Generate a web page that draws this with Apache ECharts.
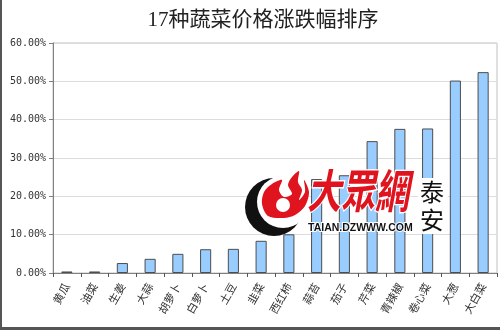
<!DOCTYPE html>
<html>
<head>
<meta charset="utf-8">
<script src="https://cdn.jsdelivr.net/npm/echarts@6/dist/echarts.min.js"></script>
<style>
  html, body { margin: 0; padding: 0; background: #fff; }
  #chart { width: 500px; height: 330px; }
</style>
</head>
<body>
<div id="chart"></div>
<script>
// Vegetable names, ordered by price change
const categories = ['黄瓜', '油菜', '生姜', '大蒜', '胡萝卜', '白萝卜', '土豆', '韭菜',
  '西红柿', '蒜苔', '茄子', '芹菜', '青辣椒', '卷心菜', '大葱', '大白菜'];
// Price change, percent
const changes = [0.4, 0.4, 2.6, 3.7, 5.0, 6.2, 6.3, 8.4,
  10.1, 24.5, 25.5, 34.4, 37.6, 37.7, 50.2, 52.4];
// Value axis range, percent
const yMin = 0;
const yMax = 60;
const yStep = 10;

const chart = echarts.init(document.getElementById('chart'), null, { renderer: 'canvas' });

chart.setOption({
  animation: false,
  backgroundColor: '#fff',
  title: {
    text: '17种蔬菜价格涨跌幅排序',
    left: 258,
    textAlign: 'center',
    top: 5,
    textStyle: {
      fontFamily: '"Liberation Serif", "Noto Sans CJK SC", serif',
      fontSize: 21,
      fontWeight: 'normal',
      color: '#222'
    }
  },
  grid: {
    left: 53, right: 3, top: 43, bottom: 57,
    show: true,
    borderColor: '#c0c0c0',
    borderWidth: 1
  },
  xAxis: {
    type: 'category',
    data: categories,
    axisLine: { lineStyle: { color: '#808080', width: 1 } },
    axisTick: { show: true, alignWithLabel: false, length: 4, lineStyle: { color: '#555' } },
    axisLabel: {
      rotate: 60,
      interval: 0,
      margin: 11,
      fontFamily: '"Noto Sans CJK SC", sans-serif',
      fontSize: 11,
      color: '#333'
    }
  },
  yAxis: {
    type: 'value',
    min: yMin,
    max: yMax,
    interval: yStep,
    axisLine: { show: true, lineStyle: { color: '#808080', width: 1 } },
    axisTick: { show: true, length: 4, lineStyle: { color: '#808080' } },
    splitLine: { lineStyle: { color: '#dcdcdc', width: 1 } },
    axisLabel: {
      margin: 7,
      fontFamily: '"DejaVu Sans Mono", monospace',
      fontSize: 10,
      color: '#333',
      formatter: v => v.toFixed(2) + '%'
    }
  },
  series: [{
    type: 'bar',
    data: changes,
    barWidth: '40%',
    itemStyle: { color: '#99ccff', borderColor: '#4d4d4d', borderWidth: 1 }
  }],
  graphic: [
    // outer frame
    { type: 'rect', shape: { x: 0, y: 0, width: 2, height: 330 }, style: { fill: '#555' }, silent: true },
    { type: 'rect', shape: { x: 0, y: 327, width: 500, height: 3 }, style: { fill: '#555' }, silent: true },
    // site logo: crescent
    { type: 'circle', shape: { cx: 274, cy: 207, r: 29 }, style: { fill: '#111' }, z: 100 },
    { type: 'circle', shape: { cx: 283, cy: 202, r: 26 }, style: { fill: '#fff' }, z: 101 },
    // site logo: flame tongues
    {
      type: 'polygon', z: 102,
      shape: {
        points: [[268, 216], [262, 204], [264, 192], [272, 184], [282, 180], [279, 190], [284, 197],
          [292, 194], [288, 185], [292, 177], [299, 171], [298, 182], [302, 190], [299, 200],
          [305, 192], [304, 180], [309, 192], [305, 206], [295, 215], [284, 218]],
        smooth: 0.3
      },
      style: { fill: '#e0141e' }
    },
    { type: 'circle', shape: { cx: 283, cy: 205, r: 7 }, style: { fill: '#fff' }, z: 103 },
    {
      type: 'text', z: 102, x: 307, y: 168, scaleY: 1.35,
      style: {
        text: '大眾網',
        font: 'italic bold 34px "Noto Sans CJK SC"',
        fill: '#e0141e',
        stroke: '#fff', lineWidth: 2
      }
    },
    {
      type: 'text', z: 102, left: 307, top: 222,
      style: {
        text: 'TAIAN.DZWWW.COM',
        font: 'bold 10.5px "Liberation Sans", Arial',
        fill: '#111',
        stroke: '#fff', lineWidth: 2
      }
    },
    { type: 'rect', shape: { x: 418, y: 178, width: 30, height: 56 }, style: { fill: '#fff' }, z: 101 },
    {
      type: 'text', z: 102, left: 420, top: 178,
      style: {
        text: '泰\n安',
        font: '24px "Noto Sans CJK SC"',
        lineHeight: 28,
        fill: '#111'
      }
    }
  ]
});
</script>
</body>
</html>
